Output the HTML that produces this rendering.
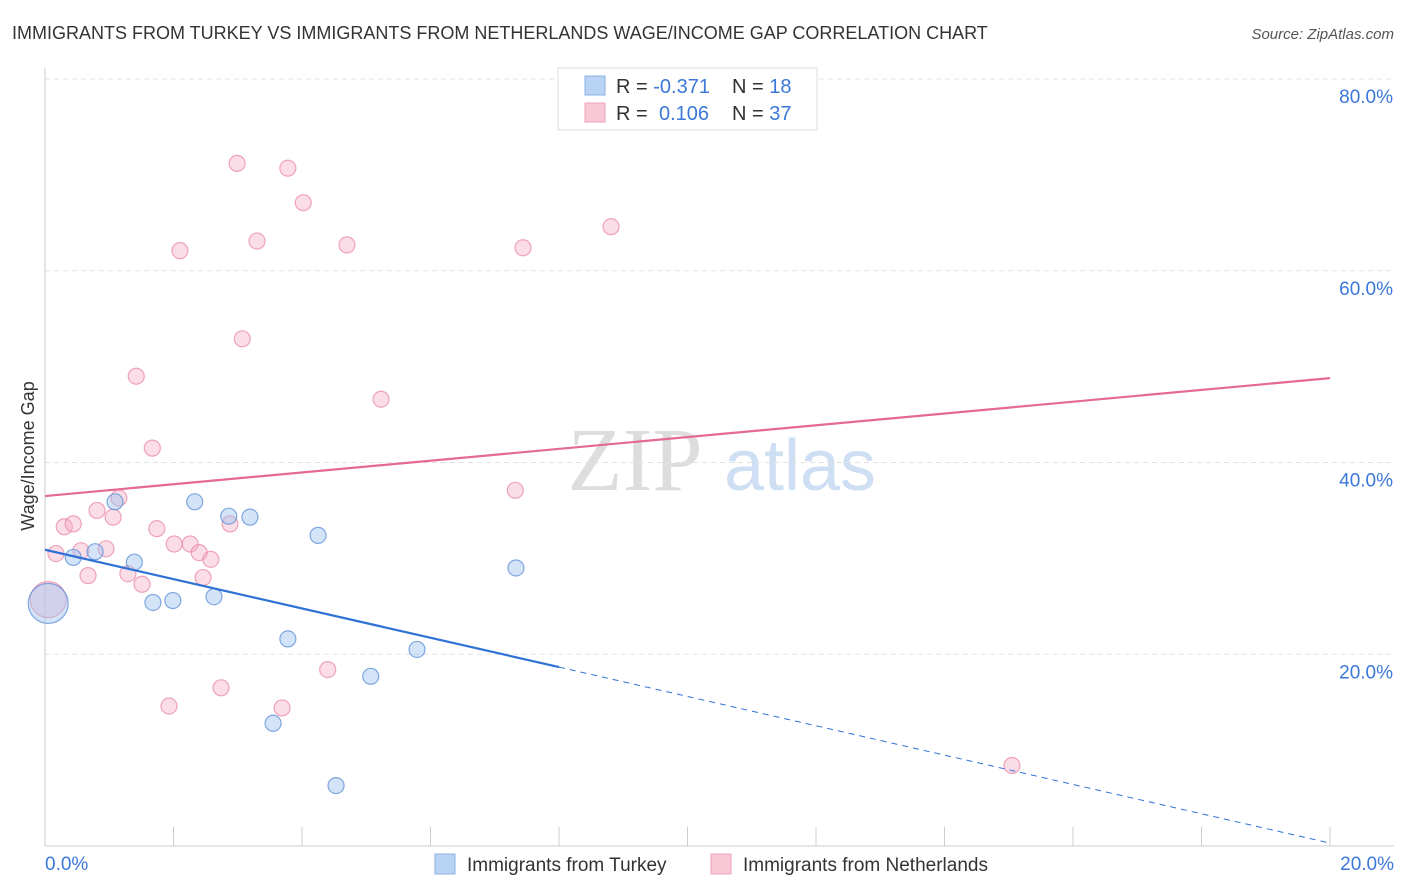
<!DOCTYPE html>
<html><head><meta charset="utf-8"><style>
body{margin:0;background:#fff;font-family:"Liberation Sans",sans-serif;}
svg{display:block}
</style></head><body>
<svg id="chart" width="1406" height="892">
<text x="12" y="39" font-size="18" fill="#333">IMMIGRANTS FROM TURKEY VS IMMIGRANTS FROM NETHERLANDS WAGE/INCOME GAP CORRELATION CHART</text>
<text x="1394" y="39" font-size="15" fill="#555" text-anchor="end" font-style="italic">Source: ZipAtlas.com</text>
<g><text x="635" y="490" font-size="90" fill="#ddd" font-family="Liberation Serif" text-anchor="middle">ZIP</text><text x="800" y="490" font-size="72" fill="#cfdff3" text-anchor="middle">atlas</text></g>
<g id="grid"></g>
<g id="axes"></g>
<g id="marks"></g>
<g>
<rect x="558" y="68" width="259" height="62" fill="#fff" stroke="#ddd"/>
<rect x="585" y="76" width="20" height="19" fill="#b9d3f5" stroke="#8bb1e6"/>
<rect x="585" y="103" width="20" height="19" fill="#f9c8d6" stroke="#eea0b7"/>
<text x="616" y="93" font-size="20" fill="#333">R = <tspan fill="#3b78d8">-0.371</tspan></text>
<text x="732" y="93" font-size="20" fill="#333">N = <tspan fill="#3b78d8">18</tspan></text>
<text x="616" y="120" font-size="20" fill="#333">R = <tspan fill="#3b78d8" x="659">0.106</tspan></text>
<text x="732" y="120" font-size="20" fill="#333">N = <tspan fill="#3b78d8">37</tspan></text>
</g>
<g>
<rect x="435" y="854" width="20" height="20" fill="#b9d3f5" stroke="#8bb1e6"/>
<text x="467" y="871" font-size="19" fill="#333">Immigrants from Turkey</text>
<rect x="711" y="854" width="20" height="20" fill="#f9c8d6" stroke="#eea0b7"/>
<text x="743" y="871" font-size="19" fill="#333">Immigrants from Netherlands</text>
</g>
<text transform="translate(34,456) rotate(-90)" font-size="18" fill="#333" text-anchor="middle">Wage/Income Gap</text>
</svg>
<script>
const yTicks=[20,40,60,80];
const xTickLabels=["0.0%","20.0%"];
const blueX=[0.44,0.78,1.09,1.39,1.68,1.99,2.33,2.63,2.86,3.19,3.78,3.55,4.25,4.53,5.07,5.79,7.33,0.05];
const blueY=[30.1,30.7,35.9,29.6,25.4,25.6,35.9,26.0,34.4,34.3,21.6,12.8,32.4,6.3,17.7,20.5,29.0,25.3];
const blueR=[8,8,8,8,8,8,8,8,8,8,8,8,8,8,8,8,8,20];
const pinkX=[0.17,0.30,0.44,0.56,0.67,0.81,1.06,1.15,1.29,1.42,1.51,1.67,1.74,1.93,2.01,2.10,2.26,2.40,2.46,2.58,2.74,2.88,2.99,3.07,3.30,3.69,3.78,4.02,4.40,4.70,5.23,7.32,7.44,8.81,15.05,0.05,0.95];
const pinkY=[30.5,33.3,33.6,30.8,28.2,35.0,34.3,36.3,28.4,49.0,27.3,41.5,33.1,14.6,31.5,62.1,31.5,30.6,28.0,29.9,16.5,33.6,71.2,52.9,63.1,14.4,70.7,67.1,18.4,62.7,46.6,37.1,62.4,64.6,8.4,25.7,31.0];
const pinkR=[8,8,8,8,8,8,8,8,8,8,8,8,8,8,8,8,8,8,8,8,8,8,8,8,8,8,8,8,8,8,8,8,8,8,8,18,8];
const blueTrend=[30.9,0.3];
const pinkTrend=[36.5,48.8];
const blueSolidEnd=8.0;
const NS="http://www.w3.org/2000/svg";
const X=v=>45+v/20*1285, Y=v=>846-v*9.5875;
function mk(t,a,p){const e=document.createElementNS(NS,t);for(const k in a)e.setAttribute(k,a[k]);p.appendChild(e);return e;}
const grid=document.getElementById('grid'),axes=document.getElementById('axes'),marks=document.getElementById('marks');
yTicks.forEach(t=>{
 const l=mk('line',{x1:45,x2:1394,y1:Y(t),y2:Y(t),stroke:'#e2e2e2','stroke-dasharray':'5,4'},grid);
 
 
 const tx=mk('text',{x:1393,y:Y(t)+24,'font-size':19,fill:'#3b78d8','text-anchor':'end'},axes);
 tx.textContent=t.toFixed(1)+'%';
 
 
});
mk('line',{x1:45,x2:45,y1:68,y2:846,stroke:'#ccc'},axes);
mk('line',{x1:45,x2:1394,y1:846,y2:846,stroke:'#ccc'},axes);
for(let i=0;i<=10;i++){const tk=mk('line',{x1:X(i*2),x2:X(i*2),y1:827,y2:846,stroke:'#ccc'},axes);
 
 }
xTickLabels.forEach((s,i)=>{const tx=mk('text',{x:i?1394:45,y:870,'font-size':19,fill:'#3b78d8','text-anchor':i?'end':'start'},axes);tx.textContent=s;
 
 });
pinkX.forEach((x,i)=>{const c=mk('circle',{cx:X(x),cy:Y(pinkY[i]),r:pinkR[i],fill:'rgba(244,170,194,0.4)',stroke:'rgba(232,130,160,0.7)','stroke-width':1.2},marks);
 
 });
blueX.forEach((x,i)=>{const c=mk('circle',{cx:X(x),cy:Y(blueY[i]),r:blueR[i],fill:'rgba(160,195,240,0.45)',stroke:'rgba(90,140,215,0.75)','stroke-width':1.2},marks);
 
 });
const by=v=>blueTrend[0]+(blueTrend[1]-blueTrend[0])*v/20;
const l1=mk('line',{x1:X(0),y1:Y(pinkTrend[0]),x2:X(20),y2:Y(pinkTrend[1]),stroke:'#e46a92','stroke-width':2.2},marks);


const l2=mk('line',{x1:X(0),y1:Y(by(0)),x2:X(blueSolidEnd),y2:Y(by(blueSolidEnd)),stroke:'#2f72d6','stroke-width':2.2},marks);


const l3=mk('line',{x1:X(blueSolidEnd),y1:Y(by(blueSolidEnd)),x2:X(20),y2:Y(by(20)),stroke:'#2f72d6','stroke-width':1,'stroke-dasharray':'6,5'},marks);


</script>
</body></html>
